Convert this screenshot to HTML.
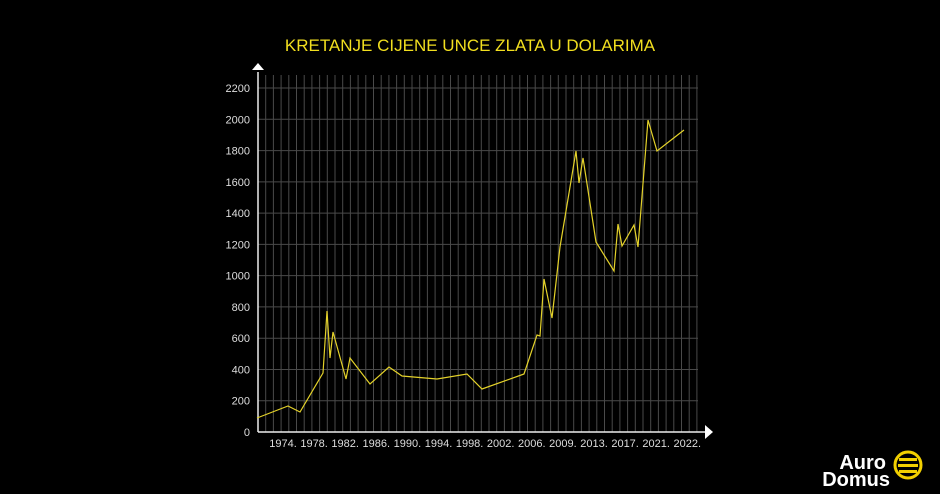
<!DOCTYPE html>
<html><head><meta charset="utf-8"><style>
body{margin:0;background:#000;width:940px;height:494px;overflow:hidden}
svg{display:block}
text{font-family:"Liberation Sans","DejaVu Sans",sans-serif}
</style></head><body>
<svg width="940" height="494" xmlns="http://www.w3.org/2000/svg">
<rect width="940" height="494" fill="#000"/>
<text x="470" y="51" text-anchor="middle" fill="#f2df1f" font-size="17">KRETANJE CIJENE UNCE ZLATA U DOLARIMA</text>
<g id="grid" stroke="#4a4a4a" stroke-width="1"></g>
<g id="lbl" fill="#ddd" font-size="11"></g>
<line x1="258" y1="72" x2="258" y2="432" stroke="#eee" stroke-width="1.5"/>
<line x1="258" y1="432" x2="706" y2="432" stroke="#eee" stroke-width="1.5"/>
<polygon points="252,70 264,70 258,63" fill="#fff"/>
<polygon points="705,425 705,439 713,432" fill="#fff"/>
<polyline fill="none" stroke="#e4d22a" stroke-width="1.2" points="257,418 288,406 300,412 323,373 327,311 330,358 333,332 346,379 350,358 370,384 389,367 402,376 437,379 467,374 482,389 524,374 537,335 540,336 544,279 552,318 560,247 576,151 579,183 583,158 596,242 614,271 618,224 622,246 634,225 638,247 648,120 657,151 684,130"/>
<text x="886" y="469" text-anchor="end" fill="#fff" font-size="20" font-weight="bold">Auro</text>
<text x="890" y="486" text-anchor="end" fill="#fff" font-size="20" font-weight="bold">Domus</text>
<circle cx="908" cy="465" r="13" fill="none" stroke="#f2d000" stroke-width="3"/>
<rect x="899" y="458" width="18" height="3" fill="#f2d000"/>
<rect x="898" y="464" width="20" height="3" fill="#f2d000"/>
<rect x="899" y="470" width="18" height="3" fill="#f2d000"/>
</svg>
<script>
var g=document.getElementById('grid'),l=document.getElementById('lbl'),ns='http://www.w3.org/2000/svg';
function el(p,t,a){var e=document.createElementNS(ns,t);for(var k in a)e.setAttribute(k,a[k]);p.appendChild(e);return e;}
for(var x=265.7;x<=698;x+=7.7)el(g,'line',{x1:x,y1:75,x2:x,y2:432});
for(var i=1;i<=11;i++){var y=432-i*31.27;el(g,'line',{x1:258,y1:y,x2:698,y2:y});}
for(var i=0;i<=11;i++){var y=432-i*31.27;var t=el(l,'text',{x:250,y:y+4,'text-anchor':'end'});t.textContent=i*200;}
var yrs=['1974.','1978.','1982.','1986.','1990.','1994.','1998.','2002.','2006.','2009.','2013.','2017.','2021.','2022.'];
yrs.forEach(function(s,i){var t=el(l,'text',{x:283+i*31.1,y:447,'text-anchor':'middle'});t.textContent=s;});
</script>
</body></html>
